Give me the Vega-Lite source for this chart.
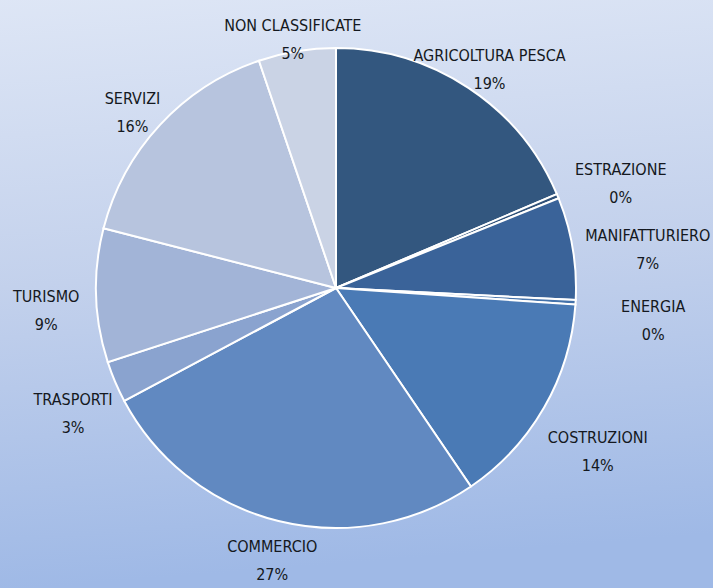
{
  "$schema": "https://vega.github.io/schema/vega-lite/v6.json",
  "width": 754,
  "height": 600,
  "autosize": "none",
  "padding": {"left": -41, "top": -12, "right": 0, "bottom": 0},
  "background": "#bfd0ee",
  "config": {"view": {"stroke": null}},
  "data": {
    "values": [
      {"i": 1, "name": "AGRICOLTURA PESCA", "value": 18.6},
      {"i": 2, "name": "ESTRAZIONE", "value": 0.3},
      {"i": 3, "name": "MANIFATTURIERO", "value": 6.9},
      {"i": 4, "name": "ENERGIA", "value": 0.3},
      {"i": 5, "name": "COSTRUZIONI", "value": 14.4},
      {"i": 6, "name": "COMMERCIO", "value": 26.7},
      {"i": 7, "name": "TRASPORTI", "value": 2.8},
      {"i": 8, "name": "TURISMO", "value": 9.0},
      {"i": 9, "name": "SERVIZI", "value": 15.8},
      {"i": 10, "name": "NON CLASSIFICATE", "value": 5.2}
    ]
  },
  "transform": [
    {"calculate": "datum.name + '\\n' + format(datum.value, '.0f') + '%'", "as": "label"}
  ],
  "layer": [
    {
      "data": {"values": [{"bg": 1}]},
      "mark": {
        "type": "rect",
        "fill": {
          "gradient": "linear",
          "x1": 0, "y1": 0, "x2": 0.1, "y2": 1,
          "stops": [
            {"offset": 0, "color": "#dfe7f6"},
            {"offset": 0.5, "color": "#c3d1ec"},
            {"offset": 1, "color": "#9fb9e6"}
          ]
        }
      },
      "encoding": {}
    },
    {
      "mark": {"type": "arc", "outerRadius": 240, "stroke": "#ffffff", "strokeWidth": 2},
      "encoding": {
        "theta": {"field": "value", "type": "quantitative", "stack": true},
        "order": {"field": "i", "type": "quantitative"},
        "color": {
          "field": "name",
          "type": "nominal",
          "sort": null,
          "legend": null,
          "scale": {
            "domain": ["AGRICOLTURA PESCA", "ESTRAZIONE", "MANIFATTURIERO", "ENERGIA", "COSTRUZIONI", "COMMERCIO", "TRASPORTI", "TURISMO", "SERVIZI", "NON CLASSIFICATE"],
            "range": ["#33577f", "#2f5078", "#3a6399", "#4472aa", "#4a7ab5", "#6189c1", "#8aa3cf", "#a2b4d7", "#b7c4de", "#cad3e5"]
          }
        }
      }
    },
    {
      "mark": {
        "type": "text",
        "font": "'DejaVu Sans Condensed', 'Liberation Sans Narrow', Roboto, sans-serif",
        "fontSize": 16,
        "lineHeight": 28,
        "lineBreak": "\n",
        "align": "center",
        "baseline": "middle",
        "color": "#141820",
        "radius": {"expr": "1/sqrt(pow(sin(PI*(datum.value_start+datum.value_end)/100)/(sin(PI*(datum.value_start+datum.value_end)/100) > 0 ? 318 : 290), 2) + pow(cos(PI*(datum.value_start+datum.value_end)/100)/265, 2))"}
      },
      "encoding": {
        "theta": {"field": "value", "type": "quantitative", "stack": true},
        "order": {"field": "i", "type": "quantitative"},
        "text": {"field": "label", "type": "nominal"}
      }
    }
  ]
}
